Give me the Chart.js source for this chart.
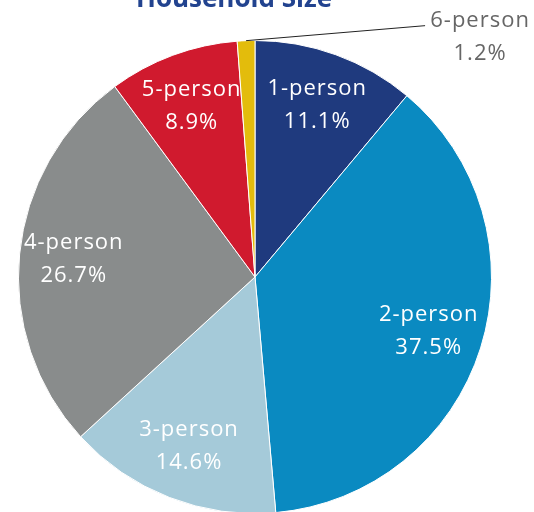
<!DOCTYPE html>
<html>
<head>
<meta charset="utf-8">
<script src="https://cdn.jsdelivr.net/npm/chart.js@4"></script>
<style>
  body { margin: 0; overflow: hidden; background: #fff; }
  #wrap { width: 534px; height: 530px; }
</style>
</head>
<body>
<div id="wrap"><canvas id="chart"></canvas></div>
<script>
const labels = ["1-person", "2-person", "3-person", "4-person", "5-person", "6-person"];
const shares = [11.1, 37.5, 14.6, 26.7, 8.9, 1.2];
const colors = ["#1f3a7e", "#0a8ac1", "#a5cad9", "#898c8c", "#d01a2e", "#e3bc0c"];
const titleText = "Household Size";

// slice labels: white inside, the tiny one gets a leader line
const sliceLabels = {
  id: 'sliceLabels',
  afterDatasetsDraw(chart) {
    const ctx = chart.ctx;
    const meta = chart.getDatasetMeta(0);
    ctx.save();
    ctx.font = '22px "Open Sans"';
    ctx.letterSpacing = '1px';
    ctx.textAlign = 'center';
    ctx.textBaseline = 'middle';
    meta.data.forEach((arc, i) => {
      const p = arc.getProps(['x', 'y', 'startAngle', 'endAngle', 'outerRadius']);
      const mid = (p.startAngle + p.endAngle) / 2;
      const txt = shares[i].toFixed(1) + '%';
      if (shares[i] < 3) {
        const sx = p.x + Math.cos(mid) * p.outerRadius;
        const sy = p.y + Math.sin(mid) * p.outerRadius;
        ctx.strokeStyle = '#222';
        ctx.lineWidth = 1;
        ctx.beginPath();
        ctx.moveTo(sx, sy);
        ctx.lineTo(sx + 179, sy - 15);
        ctx.stroke();
        ctx.fillStyle = '#666';
        ctx.fillText(labels[i], sx + 234, sy - 20);
        ctx.fillText(txt, sx + 234, sy + 13);
        return;
      }
      const r = p.outerRadius * 0.77;
      const cx = p.x + Math.cos(mid) * r;
      const cy = p.y + Math.sin(mid) * r;
      ctx.fillStyle = '#fff';
      ctx.fillText(labels[i], cx, cy - 17);
      ctx.fillText(txt, cx, cy + 16);
    });
    // title sits mostly above the page edge
    ctx.letterSpacing = '0px';
    ctx.font = 'bold 26px "Open Sans"';
    ctx.fillStyle = '#22438f';
    ctx.textBaseline = 'alphabetic';
    ctx.fillText(titleText, 234, 7);
    ctx.restore();
  }
};

new Chart(document.getElementById('chart'), {
  type: 'pie',
  data: {
    labels: labels,
    datasets: [{
      data: shares,
      backgroundColor: colors,
      borderColor: '#fff',
      borderWidth: 1
    }]
  },
  options: {
    responsive: true,
    maintainAspectRatio: false,
    animation: false,
    layout: { padding: { left: 18, right: 42, top: 40, bottom: 16 } },
    plugins: {
      legend: { display: false },
      tooltip: { enabled: false },
      title: { display: false }
    }
  },
  plugins: [sliceLabels]
});
</script>
</body>
</html>
